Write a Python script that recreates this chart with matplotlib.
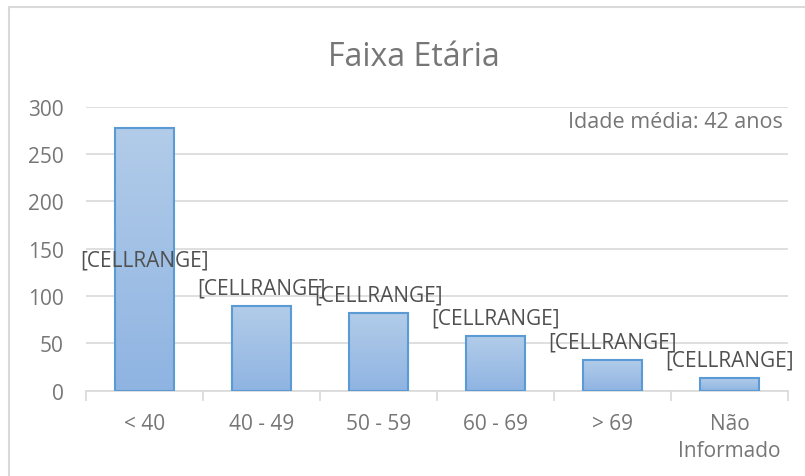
import numpy as np
import matplotlib.pyplot as plt
from matplotlib.colors import LinearSegmentedColormap
from matplotlib.patches import Rectangle

# Data
categories = ['< 40', '40 - 49', '50 - 59', '60 - 69', '> 69', 'Não\nInformado']
counts = [277, 89, 82, 58, 32, 13]
bar_labels = ['[CELLRANGE]'] * 6
title = 'Faixa Etária'
note = 'Idade média: 42 anos'

plt.rcParams['font.family'] = ['Open Sans', 'DejaVu Sans']
tick_gray = '#767676'
label_gray = '#505050'

fig = plt.figure(figsize=(8.05, 4.77), dpi=100)
ax = fig.add_axes([86/805, 85.3/477, 702/805, 284/477])

x = np.arange(len(categories))
bars = ax.bar(x, counts, width=0.5, color='none', edgecolor='#5b9bd5', linewidth=1.5, zorder=3)

# Gradient fill clipped to each bar
cmap = LinearSegmentedColormap.from_list('grad', ['#8fb4e2', '#b2cce9'])
grad = np.linspace(0, 1, 256).reshape(-1, 1)
for b in bars:
    x0, y0 = b.get_x(), b.get_y()
    im = ax.imshow(grad, cmap=cmap, origin='lower', aspect='auto',
                   extent=[x0, x0 + b.get_width(), y0, y0 + b.get_height()], zorder=2)
    im.set_clip_path(b)

# Data labels: first inside the bar centre, rest above the bar
for i, (v, lab) in enumerate(zip(counts, bar_labels)):
    if i == 0:
        ax.text(i, v / 2, lab, ha='center', va='center', fontsize=15, color=label_gray, zorder=4)
    else:
        ax.annotate(lab, (i, v), xytext=(0, 13), textcoords='offset points',
                    ha='center', va='center', fontsize=15, color=label_gray, zorder=4)

ax.set_xlim(-0.5, len(categories) - 0.5)
ax.set_ylim(0, 300)
ax.set_yticks(range(0, 301, 50))
ax.yaxis.grid(True, color='#d9d9d9', linewidth=1.2, zorder=0)
ax.set_axisbelow(True)

ax.set_xticks(x)
ax.set_xticklabels(categories, fontsize=15, color=tick_gray, linespacing=1.4)
ax.set_xticks(np.arange(-0.5, len(categories)), minor=True)
ax.tick_params(axis='x', which='major', length=0, pad=16)
ax.tick_params(axis='x', which='minor', length=7, color='#d9d9d9', width=1.2)
ax.tick_params(axis='y', length=0, labelsize=15, labelcolor=tick_gray, pad=16)

for s in ['top', 'right', 'left']:
    ax.spines[s].set_visible(False)
ax.spines['bottom'].set_color('#d9d9d9')
ax.spines['bottom'].set_linewidth(1.2)

# Average age note, top right of the plot area
ax.text((783 - 86) / 702, 278.5, note, transform=ax.get_yaxis_transform(),
        ha='right', va='baseline', fontsize=15.5, color=tick_gray)

fig.text(414/805, 1 - 66/477, title, ha='center', va='baseline', fontsize=23, color=tick_gray)

# Chart area frame
fig.patches.append(Rectangle((9/805, -0.1), 1.1, 1 - 8/477 + 0.1, transform=fig.transFigure,
                             fill=False, edgecolor='#d9d9d9', linewidth=1.5))

plt.savefig('out.png', dpi=100)
